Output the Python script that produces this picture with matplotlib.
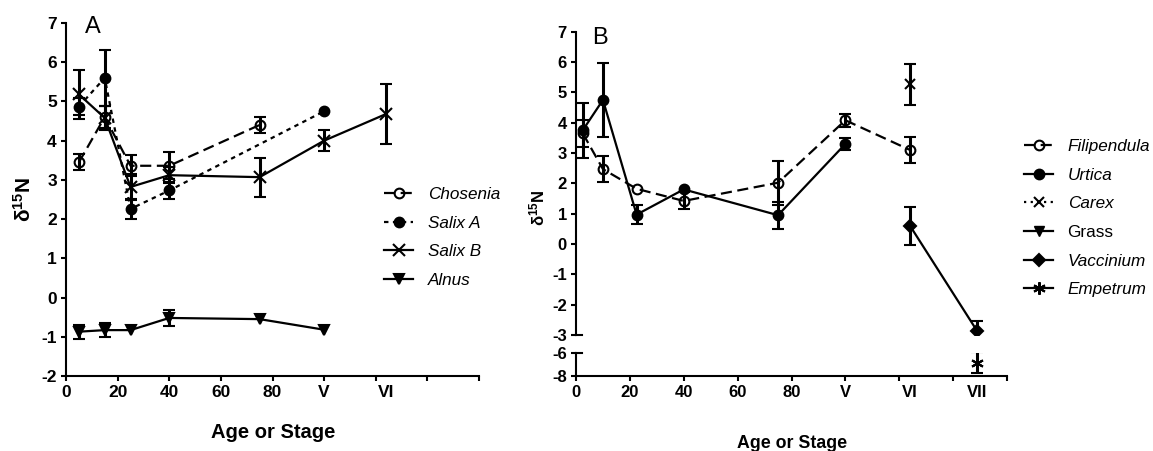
import matplotlib

matplotlib.use("Agg")

import matplotlib.pyplot as plt
import matplotlib.transforms as mtransforms
import numpy as np


plt.rcParams.update(
    {
        "font.family": "Liberation Sans",
        "font.weight": "bold",
        "mathtext.fontset": "custom",
        "mathtext.rm": "Liberation Sans:bold",
        "mathtext.default": "rm",
        "axes.linewidth": 1.5,
        "axes.unicode_minus": False,
    }
)

# stages V-VII sit to the right of the age scale
STAGES = {"V": 100, "VI": 124, "VII": 149}

# panel A
chosenia_x = [5, 15, 25, 40, 75]
chosenia_y = [3.45, 4.6, 3.36, 3.36, 4.4]
chosenia_err = [0.2, 0.28, 0.27, 0.35, 0.2]

salix_a_x = [5, 15, 25, 40, "V"]
salix_a_y = [4.87, 5.6, 2.26, 2.73, 4.75]
salix_a_err = [0.22, 0.72, 0.25, 0.21, None]

salix_b_x = [5, 15, 25, 40, 75, "V", "VI"]
salix_b_y = [5.18, 4.58, 2.82, 3.12, 3.07, 4.0, 4.68]
salix_b_err = [0.62, 0.3, 0.34, 0.2, 0.5, 0.27, 0.77]

alnus_x = [5, 15, 25, 40, 75, "V"]
alnus_y = [-0.87, -0.83, -0.83, -0.52, -0.55, -0.82]
alnus_err = [0.18, 0.18, None, 0.2, None, None]

# panel B
filipendula_x = [2.5, 10, 22.5, 40, 75, "V", "VI"]
filipendula_y = [3.65, 2.47, 1.82, 1.42, 2.02, 4.08, 3.1]
filipendula_err = [0.45, 0.43, None, 0.28, 0.73, 0.22, 0.43]

urtica_x = [2.5, 10, 22.5, 40, 75, "V"]
urtica_y = [3.75, 4.75, 0.97, 1.8, 0.95, 3.3]
urtica_err = [0.9, 1.23, 0.3, None, 0.45, 0.2]

carex_x = ["VI"]
carex_y = [5.27]
carex_err = [0.68]

grass_x = []
grass_y = []

vaccinium_x = ["VI", "VII"]
vaccinium_y = [0.6, -2.88]
vaccinium_err = [0.63, 0.33]

empetrum_x = ["VII"]
empetrum_y = [-6.85]
empetrum_err = [0.9]

age_ticks = [0, 20, 40, 60, 80, 100, 120, 140, 160]
age_tick_labels = ["0", "20", "40", "60", "80", "V", "", "", ""]

D15N = r"$\mathrm{δ^{15}N}$"


def to_x(values):
    return [STAGES[v] if isinstance(v, str) else v for v in values]


def draw_series(ax, x, y, err, marker, linestyle, label, hollow=False, ms=7):
    yerr = np.array([np.nan if e is None else e for e in err], dtype=float)
    eb = ax.errorbar(
        to_x(x),
        y,
        yerr=yerr,
        color="black",
        linestyle=linestyle,
        linewidth=1.6,
        marker=marker,
        markersize=ms,
        markerfacecolor="none" if hollow else "black",
        markeredgecolor="black",
        markeredgewidth=1.5,
        ecolor="black",
        elinewidth=2.2,
        capsize=4.5,
        capthick=2.2,
    )
    line = eb.lines[0]
    line.set_label(label)
    return line


def style_axis(ax, tick_size):
    ax.spines["top"].set_visible(False)
    ax.spines["right"].set_visible(False)
    ax.tick_params(
        axis="both",
        which="major",
        direction="out",
        length=3.6,
        width=1.5,
        labelsize=tick_size,
        pad=3,
    )


def stage_labels(ax, labels, size):
    ax.set_xticks(to_x(labels), labels=labels, minor=True)
    ax.tick_params(axis="x", which="minor", length=0, labelsize=size, pad=6.6)


def add_legend(handles, x_px, y_px):
    return fig.legend(
        handles=handles,
        loc="upper left",
        bbox_to_anchor=(x_px / W, 1 - y_px / H),
        frameon=False,
        borderpad=0,
        borderaxespad=0,
        numpoints=1,
        handlelength=1.7,
        handletextpad=0.85,
        labelspacing=0.8,
        prop={"style": "italic", "weight": "normal", "size": 12.3},
    )


fig = plt.figure(figsize=(11.53, 4.51), dpi=100)
W, H = 1153, 451

# ---------- panel A ----------
ax_a = fig.add_axes([66 / W, 1 - 376 / H, 413 / W, 353 / H])
style_axis(ax_a, 12.5)

handles_a = [
    draw_series(ax_a, chosenia_x, chosenia_y, chosenia_err, "o", (0, (5, 2.5)), "Chosenia", hollow=True),
    draw_series(ax_a, salix_a_x, salix_a_y, salix_a_err, "o", (0, (2, 2)), "Salix A"),
    draw_series(ax_a, salix_b_x, salix_b_y, salix_b_err, "x", "-", "Salix B", ms=9),
    draw_series(ax_a, alnus_x, alnus_y, alnus_err, "v", "-", "Alnus"),
]

ax_a.set_xlim(0, 160)
ax_a.set_ylim(-2, 7)
ax_a.set_yticks(range(-2, 8))
ax_a.set_xticks(age_ticks, labels=age_tick_labels)
stage_labels(ax_a, ["VI"], 12.5)
ax_a.set_ylabel(D15N, fontsize=15)
ax_a.yaxis.set_label_coords(-0.075, 0.5)

add_legend(handles_a, 384, 187)

fig.text(85 / W, 1 - 33 / H, "A", fontsize=17, fontweight="normal", va="baseline")
fig.text(273 / W, 1 - 438 / H, "Age or Stage", fontsize=14.5, ha="center", va="baseline")

# ---------- panel B ----------
left_b, width_b = 576 / W, 431 / W
ax_b = fig.add_axes([left_b, 1 - 335 / H, width_b, 303.3 / H])
ax_bl = fig.add_axes([left_b, 1 - 376 / H, width_b, 23 / H], sharex=ax_b)
style_axis(ax_b, 12)
style_axis(ax_bl, 12)
ax_b.spines["bottom"].set_visible(False)
ax_b.tick_params(axis="x", which="both", bottom=False, labelbottom=False)

handles_b = [
    draw_series(ax_b, filipendula_x, filipendula_y, filipendula_err, "o", (0, (5, 2.5)), "Filipendula", hollow=True),
    draw_series(ax_b, urtica_x, urtica_y, urtica_err, "o", "-", "Urtica"),
    draw_series(ax_b, carex_x, carex_y, carex_err, "x", (0, (1, 2)), "Carex", ms=7),
]
handles_b += ax_b.plot(
    grass_x, grass_y, color="black", linewidth=1.6, marker="v", markersize=7, label="Grass"
)
handles_b.append(
    draw_series(ax_b, vaccinium_x, vaccinium_y, vaccinium_err, "D", "-", "Vaccinium", ms=6.5)
)
handles_b.append(
    draw_series(ax_bl, empetrum_x, empetrum_y, empetrum_err, (6, 2, 0), "-", "Empetrum", ms=9)
)

ax_b.set_xlim(0, 160)
ax_b.set_ylim(-3, 7)
ax_b.set_yticks(range(-3, 8))
ax_bl.set_ylim(-8, -6)
ax_bl.set_yticks([-8, -6])
ax_bl.set_xticks(age_ticks, labels=age_tick_labels)
stage_labels(ax_bl, ["VI", "VII"], 12)

# short marks on the broken axis
for ax, level in ((ax_b, -3), (ax_bl, -6)):
    trans = mtransforms.blended_transform_factory(ax.transAxes, ax.transData)
    ax.plot([0, 0.015], [level, level], transform=trans, color="black", linewidth=1.5, clip_on=False)

ax_b.set_ylabel(D15N, fontsize=12)
ax_b.yaxis.set_label_coords(-0.066, 0.42)

leg_b = add_legend(handles_b, 1024, 139)
leg_b.get_texts()[3].set_fontstyle("normal")

fig.text(592 / W, 1 - 44 / H, "B", fontsize=17, fontweight="normal", va="baseline")
fig.text(792 / W, 1 - 448 / H, "Age or Stage", fontsize=12.8, ha="center", va="baseline")

fig.savefig("out.png", dpi=100)
